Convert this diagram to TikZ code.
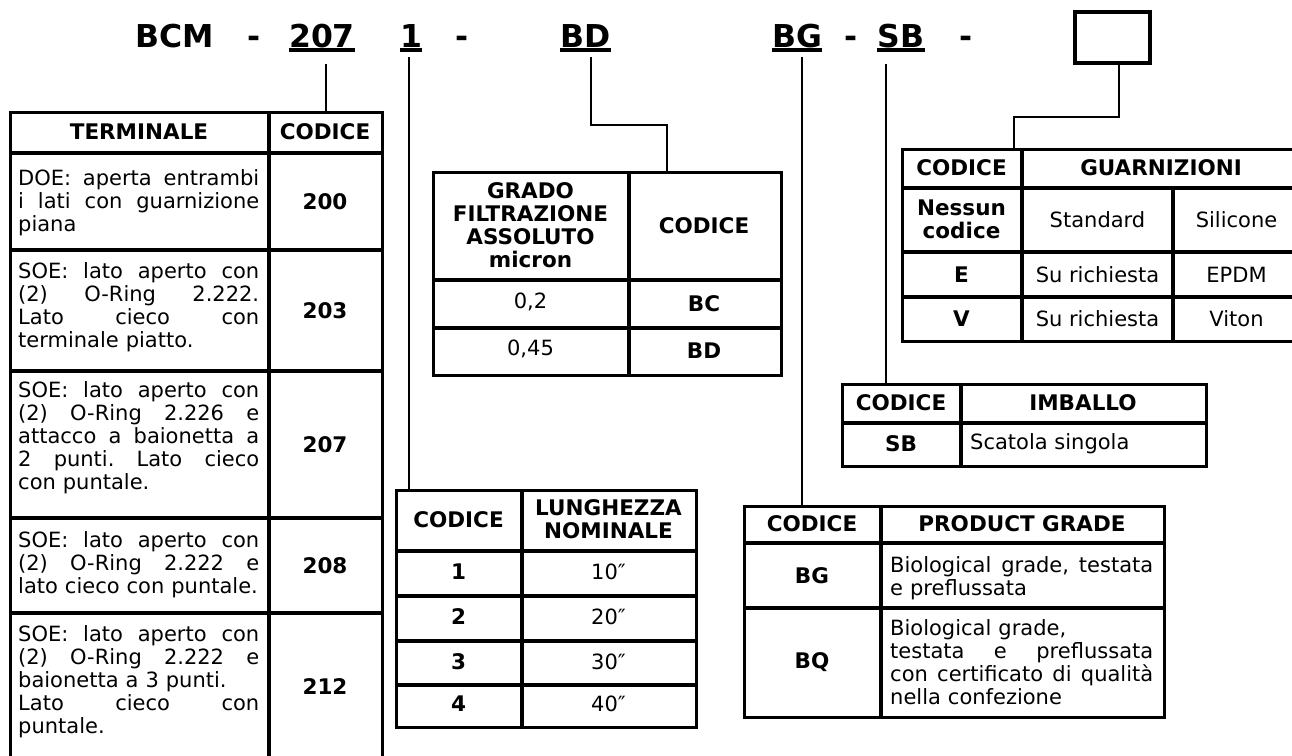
\documentclass[tikz,border=0pt]{standalone}
\usepackage{fontspec}
\setmainfont{DejaVu Sans}
\newcommand\jline[2][241pt]{\leavevmode\hbox to #1{\frenchspacing\spaceskip=\fontdimen2\font plus 1fil\relax\xspaceskip=\spaceskip #2}}
\begin{document}
\begin{tikzpicture}[x=1pt,y=-1pt,
  tframe/.style={draw, line width=3.2pt, rectangle, inner sep=0pt, anchor=north west},
  tline/.style={line width=3.2pt},
  conn/.style={line width=2.3pt},
  ttl/.style={font=\fontsize{31.5}{36}\selectfont\bfseries, inner sep=0pt, anchor=base},
  uline/.style={line width=3.4pt},
  hdr/.style={font=\fontsize{21.5}{23}\selectfont\bfseries, inner sep=0pt, align=center},
  txt/.style={font=\fontsize{21}{23}\selectfont, inner sep=0pt, align=center},
  para/.style={font=\fontsize{21}{23}\selectfont, inner sep=0pt, anchor=base west, text width=#1},
  para/.default=241pt
]
\clip (0,0) rectangle (1292,755);

% ---------- title ----------
\node[ttl] (tbcm) at (175,47) {BCM};
\node[ttl] (th1) at (254,47) {-};
\node[ttl] (t207) at (322,47) {207};
\node[ttl] (t1) at (411,47) {1};
\node[ttl] (th2) at (462.5,47) {-};
\node[ttl] (tbd) at (585.5,47) {BD};
\node[ttl] (tbg) at (797,47) {BG};
\node[ttl] (th3) at (851,47) {-};
\node[ttl] (tsb) at (901,47) {SB};
\node[ttl] (th4) at (966,47) {-};
\foreach \n in {t207,t1,tbd,tbg,tsb}
  \draw[uline] ([yshift=-3pt]\n.base west) -- ([yshift=-3pt]\n.base east);
\node[draw, line width=4pt, inner sep=0pt, minimum width=75pt, minimum height=51pt] (box) at (1112.5,37.5) {};

% ---------- TERMINALE table ----------
\node[tframe, minimum width=372pt, minimum height=650pt] (term) at (9,111) {};
\foreach \yy in {153,250,371,518,613} \draw[tline] (9,\yy) -- (381,\yy);
\draw[tline] (269,111) -- (269,761);
\node[hdr] (termh1) at (139,132) {TERMINALE};
\node[hdr] (termh2) at (325,132) {CODICE};
\node[hdr] (c200) at (325,201.5) {200};
\node[hdr] (c203) at (325,310.5) {203};
\node[hdr] (c207) at (325,444.5) {207};
\node[hdr] (c208) at (325,565.5) {208};
\node[hdr] (c212) at (325,687) {212};
\node[para] (d200) at (18,185) {\jline{DOE: aperta entrambi}\\\jline{i lati con guarnizione}\\piana};
\node[para] (d203) at (18,278) {\jline{SOE: lato aperto con}\\\jline{(2) O-Ring 2.222.}\\\jline{Lato cieco con}\\terminale piatto.};
\node[para] (d207) at (18,397) {\jline{SOE: lato aperto con}\\\jline{(2) O-Ring 2.226 e}\\\jline{attacco a baionetta a}\\\jline{2 punti. Lato cieco}\\con puntale.};
\node[para] (d208) at (18,547) {\jline{SOE: lato aperto con}\\\jline{(2) O-Ring 2.222 e}\\lato cieco con puntale.};
\node[para] (d212) at (18,641) {\jline{SOE: lato aperto con}\\\jline{(2) O-Ring 2.222 e}\\baionetta a 3 punti.\\\jline{Lato cieco con}\\puntale.};

% ---------- GRADO table ----------
\node[tframe, minimum width=348pt, minimum height=203pt] (grado) at (432,171) {};
\foreach \yy in {280,328} \draw[tline] (432,\yy) -- (780,\yy);
\draw[tline] (629,171) -- (629,374);
\node[hdr] (gh1) at (530.5,225.5) {GRADO\\FILTRAZIONE\\ASSOLUTO\\micron};
\node[hdr] (gh2) at (704,225.5) {CODICE};
\node[txt] (g1a) at (530.5,302) {0,2};
\node[hdr] (g1b) at (704,304) {BC};
\node[txt] (g2a) at (530.5,349) {0,45};
\node[hdr] (g2b) at (704,351) {BD};

% ---------- LUNGHEZZA table ----------
\node[tframe, minimum width=300pt, minimum height=237pt] (lung) at (395,489) {};
\foreach \yy in {551,596,641,685} \draw[tline] (395,\yy) -- (695,\yy);
\draw[tline] (522,489) -- (522,726);
\node[hdr] (lh1) at (458.5,520) {CODICE};
\node[hdr] (lh2) at (608.5,519) {LUNGHEZZA\\NOMINALE};
\node[hdr] (l1a) at (458.5,572) {1};
\node[txt] (l1b) at (608.5,572) {10″};
\node[hdr] (l2a) at (458.5,617) {2};
\node[txt] (l2b) at (608.5,617) {20″};
\node[hdr] (l3a) at (458.5,661.5) {3};
\node[txt] (l3b) at (608.5,661.5) {30″};
\node[hdr] (l4a) at (458.5,704) {4};
\node[txt] (l4b) at (608.5,704) {40″};

% ---------- GUARNIZIONI table ----------
\node[tframe, minimum width=399pt, minimum height=192pt] (guar) at (901,148) {};
\foreach \yy in {188,252,297} \draw[tline] (901,\yy) -- (1300,\yy);
\draw[tline] (1022,148) -- (1022,340);
\draw[tline] (1173,188) -- (1173,340);
\node[hdr] (uh1) at (961.5,168) {CODICE};
\node[hdr] (uh2) at (1161,168) {GUARNIZIONI};
\node[hdr] (u1a) at (961.5,219) {Nessun\\codice};
\node[txt] (u1b) at (1097.5,220) {Standard};
\node[txt] (u1c) at (1236.5,220) {Silicone};
\node[hdr] (u2a) at (961.5,274.5) {E};
\node[txt] (u2b) at (1097.5,274.5) {Su richiesta};
\node[txt] (u2c) at (1236.5,274.5) {EPDM};
\node[hdr] (u3a) at (961.5,318.5) {V};
\node[txt] (u3b) at (1097.5,318.5) {Su richiesta};
\node[txt] (u3c) at (1236.5,318.5) {Viton};

% ---------- IMBALLO table ----------
\node[tframe, minimum width=364pt, minimum height=82pt] (imb) at (841,383) {};
\draw[tline] (841,423) -- (1205,423);
\draw[tline] (961,383) -- (961,465);
\node[hdr] (ih1) at (901,403) {CODICE};
\node[hdr] (ih2) at (1083,403) {IMBALLO};
\node[hdr] (i1a) at (901,444) {SB};
\node[txt, anchor=west] (i1b) at (970,444) {Scatola singola};

% ---------- PRODUCT GRADE table ----------
\node[tframe, minimum width=420pt, minimum height=211pt] (prod) at (743,505) {};
\foreach \yy in {543,608} \draw[tline] (743,\yy) -- (1163,\yy);
\draw[tline] (881,505) -- (881,716);
\node[hdr] (ph1) at (812,524) {CODICE};
\node[hdr] (ph2) at (1022,524) {PRODUCT GRADE};
\node[hdr] (p1a) at (812,576) {BG};
\node[hdr] (p2a) at (812,662) {BQ};
\node[para=263pt] (p1b) at (890,572) {\jline[263pt]{Biological grade, testata}\\e preflussata};
\node[para=263pt] (p2b) at (890,635) {Biological grade,\\\jline[263pt]{testata e preflussata}\\\jline[263pt]{con certificato di qualità}\\nella confezione};

% ---------- connectors ----------
\coordinate (k207) at (326,64);
\draw[conn] (k207) -- (k207 |- term.north);
\coordinate (k1) at (409,57);
\draw[conn] (k1) -- (k1 |- lung.north);
\coordinate (kbd) at (591,57);
\coordinate (kbd2) at (667,125);
\draw[conn] (kbd) |- (kbd2) -- (kbd2 |- grado.north);
\coordinate (kbg) at (802,57);
\draw[conn] (kbg) -- (kbg |- prod.north);
\coordinate (ksb) at (886,64);
\draw[conn] (ksb) -- (ksb |- imb.north);
\coordinate (kbox) at ([xshift=6.5pt]box.south);
\coordinate (kbox2) at (1014,117);
\draw[conn] (kbox) |- (kbox2) -- (kbox2 |- guar.north);
\end{tikzpicture}
\end{document}
